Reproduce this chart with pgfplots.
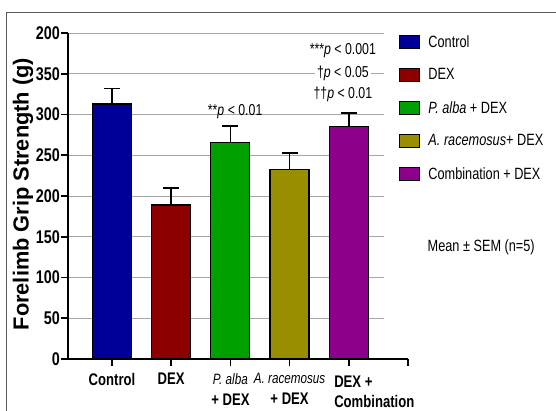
\documentclass[border=0pt]{standalone}
\usepackage{fontspec}
\setmainfont{Liberation Sans}
\newfontfamily\narrow{Liberation Sans}[FakeStretch=0.78]
\usepackage{pgfplots}
\pgfplotsset{compat=1.18}
\definecolor{cCtrl}{RGB}{0,0,150}
\definecolor{cDex}{RGB}{140,0,0}
\definecolor{cAlba}{RGB}{0,160,0}
\definecolor{cRac}{RGB}{153,142,0}
\definecolor{cComb}{RGB}{140,0,140}
\newcommand{\itn}[1]{{\narrow\mdseries\itshape #1}}
\newcommand{\itx}[1]{{\narrow\mdseries\itshape\fontsize{15}{21}\selectfont #1}}
\begin{document}
\begin{tikzpicture}[x=1pt,y=1pt]
\path[use as bounding box] (0,0) rectangle (556,411);
\draw[black!65, line width=0.9pt] (6,0) -- (6,399) -- (556,399);
\begin{axis}[
  at={(68pt,52pt)}, anchor=south west,
  scale only axis, width=340pt, height=326pt,
  xmin=-0.743, xmax=5, ymin=0, ymax=400,
  axis lines=left, axis line style={-, line width=1.6pt},
  clip=false,
  ybar, bar width=39pt, bar shift=0pt,
  xtick={0,1,2,3,4}, extra x ticks={5}, extra x tick labels={},
  xticklabels={Control, DEX, {\itx{P. alba}\\+ DEX}, {\itx{A. racemosus}\\+ DEX},
     {\hspace*{51pt}\begin{tabular}[t]{@{}l@{}}DEX +\\[-1pt]Combination\end{tabular}}},
  ytick={0,50,...,400},
  yticklabels={0,50,100,150,200,250,300,350,200},
  tick align=outside, major tick length=7pt,
  tick style={black, line width=1.6pt},
  xticklabel style={font=\narrow\bfseries\fontsize{16.8}{21}\selectfont, align=center, inner sep=1pt, yshift=-6pt},
  yticklabel style={font=\narrow\bfseries\fontsize{18.4}{20}\selectfont, inner sep=1pt},
  ylabel={Forelimb Grip Strength (g)},
  ylabel style={font=\bfseries\fontsize{21.8}{26}\selectfont, at={(axis description cs:-0.132,0.506)}, anchor=center},
  legend style={draw=none, fill=none, at={(0.974,1.0)}, anchor=north west,
     font=\narrow\fontsize{16.3}{18}\selectfont, row sep=16pt, inner sep=0pt},
  legend cell align=left,
  legend image code/.code={\draw[#1, line width=1pt] (0pt,-6.5pt) rectangle (20pt,6.5pt); \path (26pt,0pt);},
  error bars/y dir=plus, error bars/y explicit,
  error bars/error bar style={line width=1.5pt, black},
  error bars/error mark options={rotate=90, mark size=8pt, line width=1.5pt, black},
]
\pgfplotsinvokeforeach{50,100,150,200,250,300,350,400}{
  \draw[black!35, line width=0.9pt] (axis cs:-0.72,#1) -- (axis cs:4.6,#1);
}
\addplot[fill=cCtrl, draw=black, line width=1.2pt] coordinates {(0,313) +- (0,19)};
\addlegendentry{Control}
\addplot[fill=cDex, draw=black, line width=1.2pt] coordinates {(1,189) +- (0,21)};
\addlegendentry{DEX}
\addplot[fill=cAlba, draw=black, line width=1.2pt] coordinates {(2,266) +- (0,20)};
\addlegendentry{\itn{P. alba} + DEX}
\addplot[fill=cRac, draw=black, line width=1.2pt] coordinates {(3,233) +- (0,20)};
\addlegendentry{\itn{A. racemosus}+ DEX}
\addplot[fill=cComb, draw=black, line width=1.2pt] coordinates {(4,285) +- (0,17)};
\addlegendentry{Combination + DEX}
\node[font=\narrow\fontsize{15.8}{18}\selectfont, inner sep=1pt] at (axis cs:2.08,303) {**\itn{p} < 0.01};
\node[font=\narrow\fontsize{15.8}{18}\selectfont, inner sep=1pt, fill=white] at (axis cs:3.9,378) {***\itn{p} < 0.001};
\node[font=\narrow\fontsize{15.8}{18}\selectfont, inner sep=2pt, fill=white] at (axis cs:3.9,351) {\textdagger\itn{p} < 0.05};
\node[font=\narrow\fontsize{15.8}{18}\selectfont, inner sep=1pt] at (axis cs:3.9,325) {\textdagger\textdagger\itn{p} < 0.01};
\node[font=\narrow\fontsize{16.3}{18}\selectfont, anchor=west, inner sep=0pt] at (axis cs:5.33,137) {Mean ± SEM (n=5)};
\end{axis}
\end{tikzpicture}
\end{document}
